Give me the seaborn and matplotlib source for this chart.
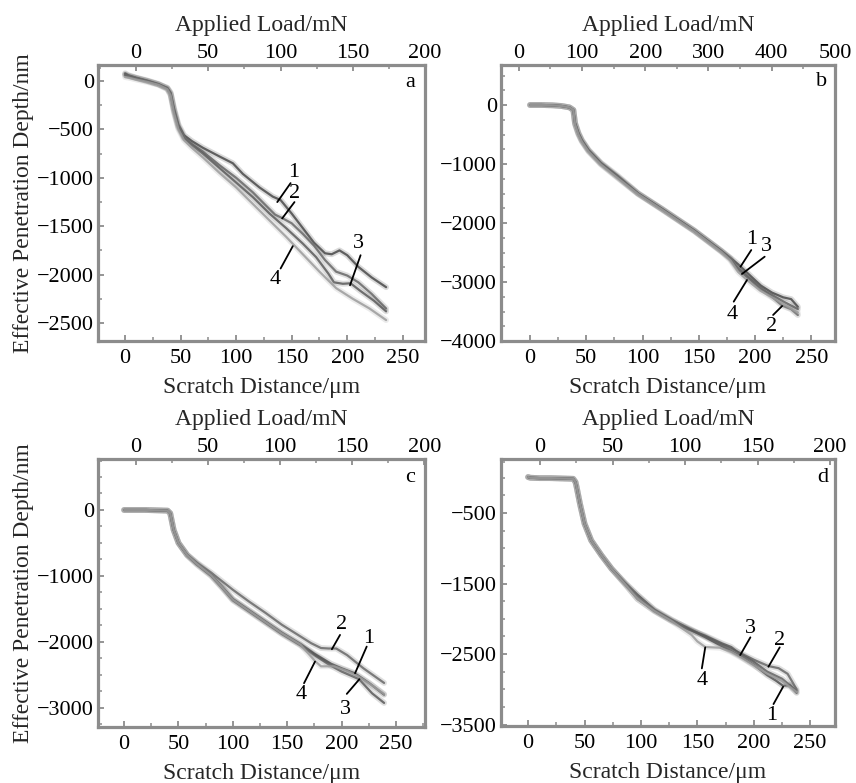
import numpy as np
import pandas as pd
import matplotlib
matplotlib.use("Agg")
import matplotlib.pyplot as plt
from matplotlib.ticker import MultipleLocator, FixedLocator
import seaborn as sns

sns.set_theme(style="white")
plt.rcParams['font.family'] = ['Liberation Serif', 'DejaVu Serif']
plt.rcParams['axes.unicode_minus'] = True

# ---------------- data ----------------
# Panel a
a1_x = [0, 3, 10, 20, 30, 38, 41, 44, 48, 53, 60, 70, 85, 97, 106, 121, 133, 140, 150, 160, 170, 180, 186, 193, 200, 210, 222, 235]
a1_y = [60, 50, 30, 0, -35, -70, -120, -280, -450, -560, -620, -690, -780, -850, -960, -1100, -1195, -1230, -1370, -1520, -1670, -1780, -1790, -1750, -1800, -1920, -2030, -2130]
a2_x = [0, 3, 10, 20, 30, 38, 41, 44, 48, 53, 60, 70, 85, 100, 115, 128, 135, 142, 150, 160, 170, 180, 190, 200, 210, 222, 235]
a2_y = [80, 60, 35, 5, -30, -75, -130, -300, -470, -580, -650, -730, -870, -1000, -1150, -1300, -1380, -1420, -1470, -1580, -1700, -1850, -1970, -2010, -2080, -2200, -2350]
a3_x = [0, 3, 10, 20, 30, 38, 41, 44, 48, 53, 60, 70, 85, 100, 115, 130, 145, 160, 172, 183, 188, 196, 203, 212, 224, 235]
a3_y = [70, 55, 30, 0, -35, -80, -140, -310, -480, -590, -660, -750, -900, -1050, -1200, -1370, -1520, -1680, -1820, -1990, -2080, -2095, -2090, -2170, -2270, -2380]
a4_x = [0, 3, 10, 20, 30, 38, 41, 44, 48, 53, 60, 70, 85, 100, 115, 130, 145, 160, 175, 190, 205, 220, 235]
a4_y = [40, 35, 15, -10, -40, -85, -150, -330, -500, -610, -690, -790, -950, -1100, -1270, -1440, -1610, -1790, -1970, -2140, -2250, -2350, -2470]

# Panel b
b1_x = [0, 10, 20, 28, 35, 38.5, 40, 43, 46, 52, 63, 78, 96, 117, 146, 170, 178, 185, 195, 205, 215, 225, 232, 238]
b1_y = [0, 0, -5, -17, -40, -85, -310, -480, -600, -770, -990, -1220, -1500, -1760, -2130, -2470, -2590, -2700, -2880, -3060, -3180, -3260, -3290, -3420]
b2_x = [0, 10, 20, 28, 35, 38.5, 40, 43, 46, 52, 63, 78, 96, 117, 146, 170, 178, 185, 195, 205, 215, 224, 232, 238]
b2_y = [0, 0, -5, -17, -40, -85, -320, -490, -610, -780, -1000, -1230, -1505, -1765, -2135, -2480, -2600, -2760, -2930, -3090, -3250, -3400, -3460, -3560]
b3_x = [0, 10, 20, 28, 35, 38.5, 40, 43, 46, 52, 63, 78, 96, 117, 146, 170, 178, 185, 195, 205, 215, 225, 238]
b3_y = [0, 0, -5, -17, -40, -85, -300, -470, -590, -760, -980, -1200, -1495, -1755, -2125, -2475, -2610, -2790, -2950, -3120, -3220, -3330, -3460]
b4_x = [0, 10, 20, 28, 35, 38.5, 40, 43, 46, 52, 63, 78, 96, 117, 146, 170, 178, 185, 193, 205, 215, 225, 238]
b4_y = [0, 0, -5, -17, -40, -85, -330, -500, -620, -790, -1010, -1240, -1510, -1770, -2140, -2490, -2630, -2830, -2970, -3150, -3260, -3370, -3520]

# Panel c
c1_x = [0, 10, 20, 30, 40, 42.4, 45.5, 50, 58, 67, 80, 90, 100, 115, 130, 145, 162, 175, 190, 200, 212, 225, 239]
c1_y = [0, 0, 0, -5, -10, -50, -300, -500, -680, -810, -980, -1160, -1350, -1520, -1690, -1860, -2030, -2180, -2330, -2400, -2475, -2620, -2800]
c2_x = [0, 10, 20, 30, 40, 42.4, 45.5, 50, 58, 67, 80, 90, 100, 115, 130, 145, 162, 172, 181, 188, 195, 205, 220, 239]
c2_y = [0, 0, 0, -5, -10, -50, -300, -500, -680, -800, -950, -1080, -1210, -1390, -1560, -1740, -1916, -2020, -2093, -2100, -2100, -2200, -2400, -2622]
c3_x = [0, 10, 20, 30, 40, 42.4, 45.5, 50, 58, 67, 80, 90, 100, 115, 130, 145, 162, 175, 190, 200, 216, 228, 239]
c3_y = [0, 0, 0, -5, -10, -50, -300, -500, -690, -830, -1000, -1180, -1370, -1540, -1710, -1880, -2050, -2200, -2360, -2450, -2565, -2780, -2925]
c4_x = [0, 10, 20, 30, 40, 42.4, 45.5, 50, 58, 67, 80, 90, 100, 115, 130, 145, 162, 175.5, 181, 193, 205, 215, 228, 239]
c4_y = [0, 0, 0, -5, -10, -50, -300, -500, -685, -820, -990, -1170, -1360, -1530, -1700, -1870, -2040, -2290, -2370, -2370, -2440, -2520, -2660, -2790]

# Panel d
d1_x = [0, 2, 10, 20, 30, 40, 42, 43, 46, 50, 56, 65, 74, 86, 97, 112, 127, 142, 157, 172, 186, 200, 212, 220, 226, 232, 238]
d1_y = [10, 0, -5, -5, -10, -15, -60, -130, -370, -650, -890, -1100, -1290, -1490, -1660, -1870, -2010, -2140, -2260, -2390, -2510, -2650, -2800, -2880, -2950, -2940, -3050]
d2_x = [0, 2, 10, 20, 30, 40, 42, 43, 46, 50, 56, 65, 74, 86, 97, 112, 127, 142, 157, 172, 186, 200, 213, 222, 230, 238]
d2_y = [10, 0, -5, -5, -10, -15, -60, -130, -370, -650, -890, -1100, -1290, -1500, -1670, -1880, -2020, -2130, -2250, -2370, -2470, -2580, -2670, -2700, -2780, -3000]
d3_x = [0, 2, 10, 20, 30, 40, 42, 43, 46, 50, 56, 65, 74, 86, 97, 112, 127, 142, 157, 172, 180, 188, 200, 212, 225, 238]
d3_y = [10, 0, -5, -5, -10, -15, -60, -130, -370, -650, -890, -1100, -1290, -1510, -1720, -1890, -2030, -2150, -2240, -2350, -2400, -2500, -2610, -2750, -2850, -3020]
d4_x = [0, 2, 10, 20, 30, 40, 42, 43, 46, 50, 56, 65, 74, 86, 97, 112, 127, 145, 150, 157, 170, 180, 190, 200, 212, 225, 238]
d4_y = [10, 0, -5, -5, -10, -15, -60, -130, -370, -650, -890, -1100, -1290, -1510, -1720, -1890, -2030, -2230, -2320, -2400, -2410, -2470, -2560, -2660, -2780, -2880, -3040]

curve_colors = ['#4a4a4a', '#686868', '#5a5a5a', '#9c9c9c']

x_label = "Scratch Distance/\u03bcm"
top_label = "Applied Load/mN"
y_label = "Effective Penetration Depth/nm"

# annotation: (label, text_x, text_y, line_x0, line_y0, line_x1, line_y1)
ann_a = [("1", 151.6, -950, 149, -1055, 137, -1251),
         ("2", 153, -1160, 152.5, -1251, 141.4, -1420),
         ("3", 210, -1675, 212, -1800, 202.5, -2110),
         ("4", 135.4, -2050, 140, -1937, 151, -1706)]
ann_b = [("1", 197, -2288, 196.6, -2458, 187, -2741),
         ("3", 210, -2401, 208.5, -2571, 188.3, -2864),
         ("4", 180, -3559, 181, -3333, 192.8, -2966),
         ("2", 215, -3757, 216, -3559, 224, -3407)]
ann_c = [("2", 200, -1742, 198.5, -1894, 191, -2111),
         ("1", 224.5, -1944, 223, -2071, 212.3, -2475),
         ("4", 163, -2803, 165.4, -2626, 175.5, -2298),
         ("3", 203.7, -3030, 204.7, -2788, 216.3, -2565)]
ann_d = [("3", 196.8, -2135, 197, -2263, 188, -2514),
         ("2", 223, -2301, 223, -2405, 213, -2680),
         ("4", 154, -2869, 154, -2703, 157, -2405),
         ("1", 216, -3365, 217.5, -3209, 226, -2964)]

W, H = 856, 783
fig = plt.figure(figsize=(W / 100, H / 100), dpi=100)

panels = [
    dict(letter="a", box=(98, 65, 425, 341), xlim=(-24.4, 270), ylim=(-2686, 165),
         tlim=(-26.3, 200), tmaj=50, tmin=25, ymaj=FixedLocator([-2500, -2000, -1500, -1000, -500, 0]),
         curves=[(a1_x, a1_y), (a2_x, a2_y), (a3_x, a3_y), (a4_x, a4_y)], ann=ann_a,
         lpos=(257, -20), ylab=True),
    dict(letter="b", box=(501, 65, 835, 341), xlim=(-25.8, 271), ylim=(-4000, 678),
         tlim=(-28, 500), tmaj=100, tmin=50, ymaj=FixedLocator([-4000, -3000, -2000, -1000, 0]),
         curves=[(b1_x, b1_y), (b2_x, b2_y), (b3_x, b3_y), (b4_x, b4_y)], ann=ann_b,
         lpos=(259, 390), ylab=False),
    dict(letter="c", box=(98, 459, 425, 727), xlim=(-24, 276.6), ylim=(-3290, 773),
         tlim=(-26, 200.5), tmaj=50, tmin=25, ymaj=FixedLocator([-3000, -2000, -1000, 0]),
         curves=[(c1_x, c1_y), (c2_x, c2_y), (c3_x, c3_y), (c4_x, c4_y)], ann=ann_c,
         lpos=(263, 495), ylab=True),
    dict(letter="d", box=(501, 459, 835, 726), xlim=(-24, 272), ylim=(-3520, 266),
         tlim=(-26.9, 203.4), tmaj=50, tmin=25, ymaj=FixedLocator([-3500, -2500, -1500, -500]),
         curves=[(d1_x, d1_y), (d2_x, d2_y), (d3_x, d3_y), (d4_x, d4_y)], ann=ann_d,
         lpos=(261.5, 6), ylab=False),
]

spine_color = '#8c8c8c'
tick_fs = 16
label_fs = 17

for p in panels:
    x0, y0, x1, y1 = p["box"]
    ax = fig.add_axes([x0 / W, 1 - y1 / H, (x1 - x0) / W, (y1 - y0) / H])
    for (xs, ys), col in zip(p["curves"], curve_colors):
        df = pd.DataFrame({"dist": xs, "depth": ys})
        sns.lineplot(data=df, x="dist", y="depth", ax=ax, color=col, lw=4.2,
                     alpha=0.2, sort=False, estimator=None)
        sns.lineplot(data=df, x="dist", y="depth", ax=ax, color=col, lw=1.6,
                     alpha=0.85, sort=False, estimator=None)
    for lab, tx, ty, lx0, ly0, lx1, ly1 in p["ann"]:
        ax.plot([lx0, lx1], [ly0, ly1], color='black', lw=1.3)
        ax.text(tx, ty, lab, ha='center', va='center', fontsize=tick_fs, color='black')
    ax.text(p["lpos"][0], p["lpos"][1], p["letter"], ha='center', va='center',
            fontsize=tick_fs, color='black')

    ax.set_xlim(*p["xlim"])
    ax.set_ylim(*p["ylim"])
    ax.xaxis.set_major_locator(FixedLocator([0, 50, 100, 150, 200, 250]))
    ax.xaxis.set_minor_locator(MultipleLocator(25))
    ax.yaxis.set_major_locator(p["ymaj"])
    ax.yaxis.set_minor_locator(MultipleLocator(250))
    ax.tick_params(axis='both', which='both', direction='in', colors=spine_color,
                   labelcolor='black', labelsize=tick_fs, top=False, right=False,
                   bottom=True, left=True)
    ax.tick_params(axis='x', which='major', length=4, width=1.3, pad=6)
    ax.tick_params(axis='y', which='major', length=4, width=1.3, pad=3)
    ax.tick_params(which='minor', length=3, width=1.1)
    ax.set_xlabel(x_label, fontsize=label_fs, labelpad=6)
    if p["ylab"]:
        ax.set_ylabel(y_label, fontsize=label_fs, labelpad=2)
    else:
        ax.set_ylabel("")
    for s in ax.spines.values():
        s.set_color(spine_color)
        s.set_linewidth(2.3)
        s.set_visible(True)

    ax2 = ax.twiny()
    ax2.set_xlim(*p["tlim"])
    ax2.xaxis.set_major_locator(MultipleLocator(p["tmaj"]))
    ax2.xaxis.set_minor_locator(MultipleLocator(p["tmin"]))
    ax2.tick_params(axis='x', which='both', direction='in', colors=spine_color,
                    labelcolor='black', labelsize=tick_fs, top=True, bottom=False,
                    labeltop=True, labelbottom=False)
    ax2.tick_params(which='major', length=4, width=1.3, pad=1.5)
    ax2.tick_params(which='minor', length=3, width=1.1)
    ax2.set_xlabel(top_label, fontsize=label_fs, labelpad=9.5)
    for s in ax2.spines.values():
        s.set_visible(False)

fig.savefig("out.png", dpi=100, facecolor='white')
